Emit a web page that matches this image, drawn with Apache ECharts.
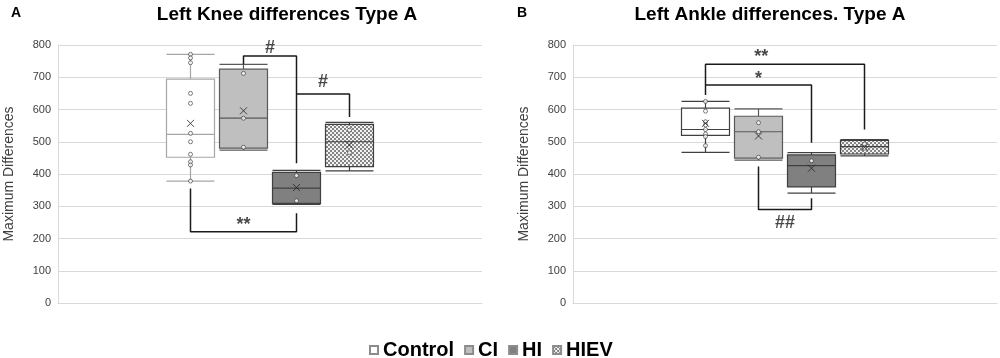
<!DOCTYPE html>
<html>
<head>
<meta charset="utf-8">
<title>Left Knee / Left Ankle differences</title>
<script src="https://cdn.jsdelivr.net/npm/echarts@6/dist/echarts.min.js"></script>
<style>
	html, body {margin: 0; padding: 0; background: #fff;}
	#container {width: 1000px; height: 358px;}
</style>
</head>
<body>
<div id="container"></div>
<script>
var groups = ['Control', 'CI', 'HI', 'HIEV'];
var yMin = 0, yMax = 800, yStep = 100;

/*膝 - [min, Q1, median, Q3, max]*/
var kneeBox = [[378, 452, 523, 694, 771], [474, 480, 573, 725, 740], [306, 309, 356, 405, 411], [410, 423, 500, 554, 560]];
var kneeMean = [557, 596, 358, 490];
var kneePoints = [[771, 760, 745, 650, 619, 526, 500, 461, 438, 428, 378], [712, 573, 483], [395, 317], [536, 466]];
var kneeBrackets = [
	[[0, 355], [0, 221], [2, 221], [2, 278]],
	[[1, 740], [1, 766], [2, 766], [2, 433]],
	[[2, 648], [3, 648], [3, 577]]
];
var kneeSigText = ['**', '#', '#'];
var kneeSigPos = [[1, 242], [1.5, 791], [2.5, 686]];

/*踝*/
var ankleBox = [[467, 520, 538, 604, 625], [443, 449, 531, 579, 602], [341, 360, 426, 459, 466], [456, 462, 485, 504, 507]];
var ankleMean = [557, 518, 418, 483];
var anklePoints = [[625, 595, 562, 552, 538, 524, 516, 488], [559, 531, 452], [441], [493, 480]];
var ankleBrackets = [
	[[0, 645], [0, 740], [3, 740], [3, 538]],
	[[0, 676], [2, 676], [2, 497]],
	[[1, 423], [1, 290], [2, 290], [2, 325]]
];
var ankleSigText = ['**', '*', '##'];
var ankleSigPos = [[1.05, 762], [1, 695], [1.5, 249]];

var FONT = '"Liberation Sans", Arial, sans-serif';
var PAD = 2; // empty slots each side of the four boxes
var slots = 4 + PAD * 2;

function checker() {
	var c = document.createElement('canvas');
	c.width = 4;
	c.height = 4;
	var ctx = c.getContext('2d');
	ctx.fillStyle = '#f2f2f2';
	ctx.fillRect(0, 0, 4, 4);
	ctx.fillStyle = '#858585';
	ctx.fillRect(0, 0, 2, 2);
	ctx.fillRect(2, 2, 2, 2);
	return c;
}

var fills = ['#ffffff', '#bfbfbf', '#808080', {image: checker(), repeat: 'repeat'}];
var kneeBorders = ['#a6a6a6', '#595959', '#404040', '#404040'];
var ankleBorders = ['#404040', '#595959', '#404040', '#404040'];

var slotNames = [];
for (var i = 0; i < slots; i++) {
	slotNames.push(i >= PAD && i < PAD + 4 ? groups[i - PAD] : 's' + i);
}

var grids = [
	{left: 58, top: 45, width: 424, height: 258},
	{left: 573, top: 45, width: 424, height: 258}
];

var xAxes = [], yAxes = [], series = [];

function axisPair(g) {
	xAxes.push({
		type: 'category', gridIndex: g, data: slotNames,
		axisLine: {show: true, lineStyle: {color: '#d9d9d9'}},
		axisTick: {show: false}, axisLabel: {show: false}, splitLine: {show: false}
	});
	xAxes.push({
		type: 'value', gridIndex: g, min: -0.5, max: slots - 0.5, show: false
	});
	yAxes.push({
		type: 'value', gridIndex: g, min: yMin, max: yMax, interval: yStep,
		name: 'Maximum Differences', nameLocation: 'middle', nameGap: 42,
		nameTextStyle: {fontSize: 14, color: '#404040', fontFamily: FONT},
		axisLine: {show: true, onZero: false, lineStyle: {color: '#d9d9d9'}},
		axisTick: {show: false},
		axisLabel: {fontSize: 11, color: '#404040', fontFamily: FONT, margin: 7},
		splitLine: {lineStyle: {color: '#d9d9d9', width: 1}}
	});
}

/*生成一个面板*/
function panel(g, boxes, means, points, brackets, sigText, sigPos, borders) {
	axisPair(g);
	var cx = g * 2, vx = g * 2 + 1;

	var boxData = [];
	for (var i = 0; i < boxes.length; i++) {
		boxData.push({
			value: [PAD + i].concat(boxes[i]),
			itemStyle: {color: fills[i], borderColor: borders[i], borderWidth: 1.2}
		});
	}
	series.push({
		type: 'boxplot', xAxisIndex: cx, yAxisIndex: g,
		boxWidth: [48, 48], encode: {x: 0, y: [1, 2, 3, 4, 5]},
		data: boxData, z: 2
	});

	var pts = [];
	for (var i = 0; i < points.length; i++) {
		for (var j = 0; j < points[i].length; j++) {
			pts.push([PAD + i, points[i][j]]);
		}
	}
	series.push({
		type: 'scatter', xAxisIndex: cx, yAxisIndex: g, data: pts,
		symbol: 'circle', symbolSize: 4, z: 4,
		itemStyle: {color: '#fff', borderColor: '#333', borderWidth: 0.8}
	});

	var mn = [];
	for (var i = 0; i < means.length; i++) {
		mn.push([PAD + i, means[i]]);
	}
	series.push({
		type: 'scatter', xAxisIndex: cx, yAxisIndex: g, data: mn,
		symbol: 'path://M0,0L10,10M10,0L0,10', symbolSize: 7, z: 5,
		itemStyle: {color: 'none', borderColor: '#222', borderWidth: 1}
	});

	for (var b = 0; b < brackets.length; b++) {
		var line = [];
		for (var k = 0; k < brackets[b].length; k++) {
			line.push([PAD + brackets[b][k][0], brackets[b][k][1]]);
		}
		series.push({
			type: 'line', xAxisIndex: vx, yAxisIndex: g, data: line,
			symbol: 'none', z: 3,
			lineStyle: {color: '#1a1a1a', width: 1.5}
		});
	}

	var sig = [];
	for (var s = 0; s < sigText.length; s++) {
		sig.push({name: sigText[s], value: [PAD + sigPos[s][0], sigPos[s][1]]});
	}
	series.push({
		type: 'scatter', xAxisIndex: vx, yAxisIndex: g, data: sig,
		symbolSize: 1, itemStyle: {color: 'transparent'}, z: 6,
		label: {
			show: true, position: 'inside', formatter: '{b}',
			fontSize: 18, fontWeight: 'bold', color: '#1a1a1a', fontFamily: FONT
		}
	});
}

panel(0, kneeBox, kneeMean, kneePoints, kneeBrackets, kneeSigText, kneeSigPos, kneeBorders);
panel(1, ankleBox, ankleMean, anklePoints, ankleBrackets, ankleSigText, ankleSigPos, ankleBorders);

/*图例用的空系列*/
for (var i = 0; i < groups.length; i++) {
	series.push({
		type: 'bar', name: groups[i], xAxisIndex: 0, yAxisIndex: 0, data: [],
		itemStyle: {color: fills[i], borderColor: '#8c8c8c', borderWidth: 1}
	});
}

function label(x, y, text, size) {
	return {
		type: 'text', x: x, y: y, silent: true,
		style: {
			text: text, fill: '#000', textAlign: 'center', verticalAlign: 'middle',
			font: 'bold ' + size + 'px ' + FONT
		}
	};
}

var chart = echarts.init(document.getElementById('container'));
chart.setOption({
	animation: false,
	backgroundColor: '#fff',
	grid: grids,
	xAxis: xAxes,
	yAxis: yAxes,
	legend: {
		data: groups, left: 364, top: 335,
		icon: 'rect', itemWidth: 8, itemHeight: 8, itemGap: 10,
		selectedMode: false,
		textStyle: {fontSize: 20, fontWeight: 'bold', color: '#000', fontFamily: FONT}
	},
	graphic: [
		label(16, 13, 'A', 14),
		label(522, 13, 'B', 14),
		label(287, 15, 'Left Knee differences Type A', 19),
		label(770, 15, 'Left Ankle differences. Type A', 19)
	],
	series: series
});
</script>
</body>
</html>
